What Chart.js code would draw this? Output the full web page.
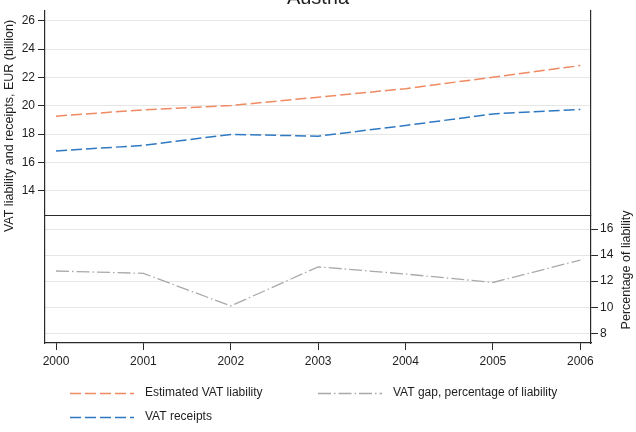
<!DOCTYPE html>
<html>
<head>
<meta charset="utf-8">
<script src="https://cdn.jsdelivr.net/npm/chart.js@4.4.1/dist/chart.umd.min.js"></script>
<style>
html,body{margin:0;padding:0;background:#fff;}
#wrap{position:relative;width:636px;height:432px;}
</style>
</head>
<body>
<div id="wrap"><canvas id="c"></canvas></div>
<script>
// ---- data ----
const years = [2000, 2001, 2002, 2003, 2004, 2005, 2006];
const liability = [19.27, 19.72, 20.02, 20.61, 21.21, 22.02, 22.84];
const receipts = [16.81, 17.21, 17.98, 17.86, 18.61, 19.43, 19.74];
const gapPct = [12.78, 12.60, 10.10, 13.10, 12.55, 11.90, 13.62];
const topTicks = [14, 16, 18, 20, 22, 24, 26];
const bottomTicks = [8, 10, 12, 14, 16];
const titleText = 'Austria';
const leftTitle = 'VAT liability and receipts, EUR (billion)';
const rightTitle = 'Percentage of liability';

// ---- styles ----
const FONT = "'Liberation Sans', Arial, Helvetica, sans-serif";
const TEXT = '#1e1e1e';
const AXIS = '#2a2a2a';
const GRID = '#e6e6e6';
const ORANGE = '#ef8a62';
const BLUE = '#2f79c2';
const GRAY = '#a9a9a9';

Chart.defaults.font.family = FONT;
Chart.defaults.font.size = 12;
Chart.defaults.color = TEXT;

const pts = vals => years.map((y, i) => ({x: y, y: vals[i]}));
const fixW = w => s => { s.width = w; };
const setTicks = arr => s => { s.ticks = arr.map(v => ({value: v})); };

const decor = {
  id: 'decor',
  afterDraw(chart) {
    const {ctx, chartArea, scales} = chart;
    ctx.save();
    // divider between panels
    const yDiv = Math.round(scales.yTop.bottom) + 0.5;
    ctx.strokeStyle = AXIS;
    ctx.lineWidth = 1.2;
    ctx.beginPath();
    ctx.moveTo(chartArea.left, yDiv);
    ctx.lineTo(chartArea.right, yDiv);
    ctx.stroke();

    // title (partly above the canvas as in reference)
    ctx.fillStyle = TEXT;
    ctx.font = '20px ' + FONT;
    ctx.textAlign = 'center';
    ctx.textBaseline = 'alphabetic';
    ctx.fillText(titleText, (chartArea.left + chartArea.right) / 2, 3.5);

    // axis titles
    ctx.font = '12.5px ' + FONT;
    ctx.textBaseline = 'middle';
    ctx.save();
    ctx.translate(10, 126);
    ctx.rotate(-Math.PI / 2);
    ctx.fillText(leftTitle, 0, 0);
    ctx.restore();
    ctx.save();
    ctx.translate(627, 270);
    ctx.rotate(-Math.PI / 2);
    ctx.fillText(rightTitle, 0, 0);
    ctx.restore();

    // legend
    const ds = chart.data.datasets;
    const items = [
      {d: ds[0], x: 70, y: 393},
      {d: ds[2], x: 318, y: 393},
      {d: ds[1], x: 70, y: 417}
    ];
    ctx.font = '12px ' + FONT;
    ctx.textAlign = 'left';
    ctx.textBaseline = 'middle';
    items.forEach(it => {
      ctx.save();
      ctx.strokeStyle = it.d.borderColor;
      ctx.lineWidth = it.d.borderWidth;
      ctx.setLineDash(it.d.borderDash);
      ctx.beginPath();
      ctx.moveTo(it.x, it.y + 0.5);
      ctx.lineTo(it.x + 64, it.y + 0.5);
      ctx.stroke();
      ctx.restore();
      ctx.fillStyle = TEXT;
      ctx.fillText(it.d.label, it.x + 75, it.y);
    });
    ctx.restore();
  }
};

new Chart(document.getElementById('c'), {
  type: 'line',
  data: {
    datasets: [
      {label: 'Estimated VAT liability', data: pts(liability), xAxisID: 'x', yAxisID: 'yTop',
       borderColor: ORANGE, borderWidth: 1.5, borderDash: [11, 4], pointRadius: 0, fill: false, tension: 0},
      {label: 'VAT receipts', data: pts(receipts), xAxisID: 'x', yAxisID: 'yTop',
       borderColor: BLUE, borderWidth: 1.5, borderDash: [11, 4], pointRadius: 0, fill: false, tension: 0},
      {label: 'VAT gap, percentage of liability', data: pts(gapPct), xAxisID: 'x', yAxisID: 'yBot',
       borderColor: GRAY, borderWidth: 1.3, borderDash: [13, 3, 1.5, 3], pointRadius: 0, fill: false, tension: 0}
    ]
  },
  options: {
    responsive: true,
    maintainAspectRatio: false,
    animation: false,
    events: [],
    layout: {padding: {top: 9, left: 0, right: 0, bottom: 59}},
    plugins: {legend: {display: false}, title: {display: false}, tooltip: {enabled: false}},
    scales: {
      x: {
        type: 'linear', position: 'bottom', min: 1999.874, max: 2006.122,
        afterBuildTicks: setTicks(years),
        ticks: {callback: v => String(v), padding: 4, maxRotation: 0, autoSkip: false, color: TEXT},
        grid: {drawOnChartArea: false, drawTicks: true, tickLength: 7, color: AXIS, lineWidth: 1},
        border: {display: true, color: AXIS, width: 1.2},
        afterFit: s => { s.height = 30; }
      },
      yBotL: {
        type: 'linear', position: 'left', stack: 'L', stackWeight: 128, min: 7.26, max: 17.04,
        ticks: {display: false}, grid: {display: false},
        border: {display: true, color: AXIS, width: 1.2},
        afterFit: fixW(45)
      },
      yTop: {
        type: 'linear', position: 'left', stack: 'L', stackWeight: 206, min: 12.26, max: 26.75,
        afterBuildTicks: setTicks(topTicks),
        ticks: {padding: 3, color: TEXT},
        grid: {color: GRID, lineWidth: 1, tickColor: AXIS, tickLength: 7, drawTicks: true},
        border: {display: true, color: AXIS, width: 1.2},
        afterFit: fixW(45)
      },
      yTopR: {
        type: 'linear', position: 'right', stack: 'R', stackWeight: 206,
        ticks: {display: false}, grid: {display: false},
        border: {display: true, color: AXIS, width: 1.2},
        afterFit: fixW(45)
      },
      yBot: {
        type: 'linear', position: 'right', stack: 'R', stackWeight: 128, min: 7.26, max: 17.04,
        afterBuildTicks: setTicks(bottomTicks),
        ticks: {padding: 2, color: TEXT},
        grid: {color: GRID, lineWidth: 1, tickColor: AXIS, tickLength: 7, drawTicks: true},
        border: {display: true, color: AXIS, width: 1.2},
        afterFit: fixW(45)
      }
    }
  },
  plugins: [decor]
});
</script>
</body>
</html>
